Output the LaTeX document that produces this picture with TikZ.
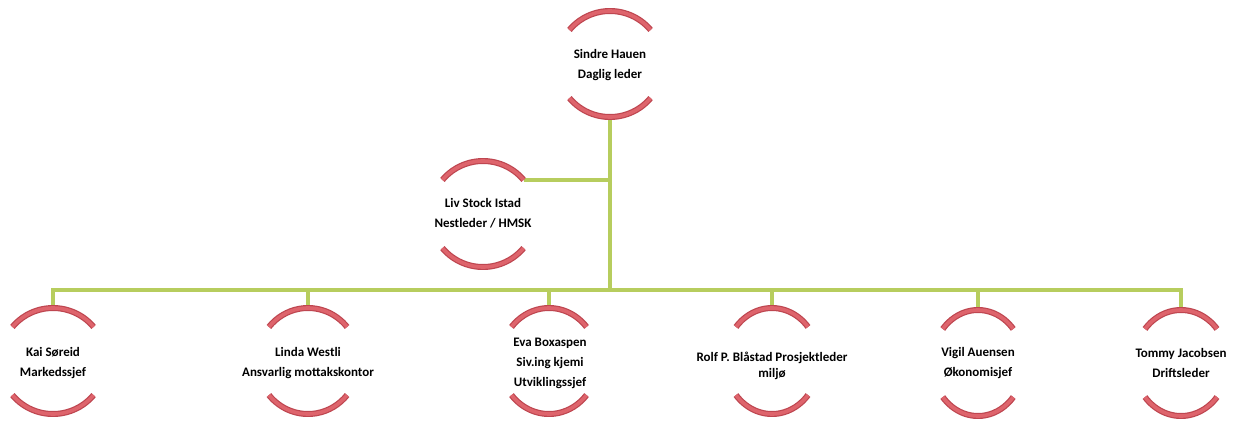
\documentclass[tikz,border=0pt]{standalone}
\usepackage{fontspec}
\setmainfont{Carlito}
\definecolor{arcdark}{RGB}{190,70,80}
\definecolor{arclight}{RGB}{222,100,108}
\definecolor{conngreen}{RGB}{183,205,94}
\begin{document}
\begin{tikzpicture}[x=1pt,y=-1pt,
  person/.style={circle,minimum size=106pt,inner sep=0pt,draw=none},
  txt/.style={align=center,font=\fontsize{13}{20}\selectfont\bfseries,inner sep=0pt,text=black},
  arcout/.style={draw=arcdark,line width=6pt},
  arcin/.style={draw=arclight,line width=3.6pt},
  conn/.style={draw=conngreen,line width=4.2pt}]
\useasboundingbox[fill=white] (0,0) rectangle (1240,421);
% people (circle anchors)
\node[person] (sh) at (610,64) {};
\node[person] (liv) at (483,214) {};
\node[person] (kai) at (53,361) {};
\node[person] (linda) at (308,361) {};
\node[person] (eva) at (549,361) {};
\node[person] (rolf) at (772,361) {};
\node[person] (vigil) at (978,363) {};
\node[person] (tommy) at (1181,363) {};
\coordinate (bus) at (610,290);
% connectors
\draw[conn] (sh.south) -- (sh.south |- bus);
\draw[conn] (liv.40) -- (liv.40 -| sh.south);
\draw[conn] (kai.north) -- (kai.north |- bus) -- (tommy.north |- bus) -- (tommy.north);
\foreach \p in {linda,eva,rolf,vigil}{\draw[conn] (\p.north) -- (\p.north |- bus);}
% arcs
\foreach \p/\rx in {sh/53,liv/53,kai/53,linda/51,eva/49,rolf/47,vigil/46,tommy/47}{
  \foreach \st/\en in {-40/-140,-220/-320}{
    \path[arcout] ([shift={(\st:{\rx} and 53)}]\p.center) arc[start angle=\st,end angle=\en,x radius=\rx,y radius=53];
    \path[arcin] ([shift={(\st:{\rx} and 53)}]\p.center) arc[start angle=\st,end angle=\en,x radius=\rx,y radius=53];
  }
}
% texts
\node[txt] (sh-t) at (610,65) {Sindre Hauen\\Daglig leder};
\node[txt] (liv-t) at (483,213) {Liv Stock Istad\\Nestleder / HMSK};
\node[txt] (kai-t) at (53,363) {Kai Søreid\\Markedssjef};
\node[txt] (linda-t) at (308,363) {Linda Westli\\Ansvarlig mottakskontor};
\node[txt] (eva-t) at (550,363) {Eva Boxaspen\\Siv.ing kjemi\\Utviklingssjef};
\node[txt] (rolf-t) at (772,366) {Rolf P. Blåstad Prosjektleder\\[-4pt]miljø};
\node[txt] (vigil-t) at (978,363) {Vigil Auensen\\Økonomisjef};
\node[txt] (tommy-t) at (1181,363) {Tommy Jacobsen\\Driftsleder};
\end{tikzpicture}
\end{document}
